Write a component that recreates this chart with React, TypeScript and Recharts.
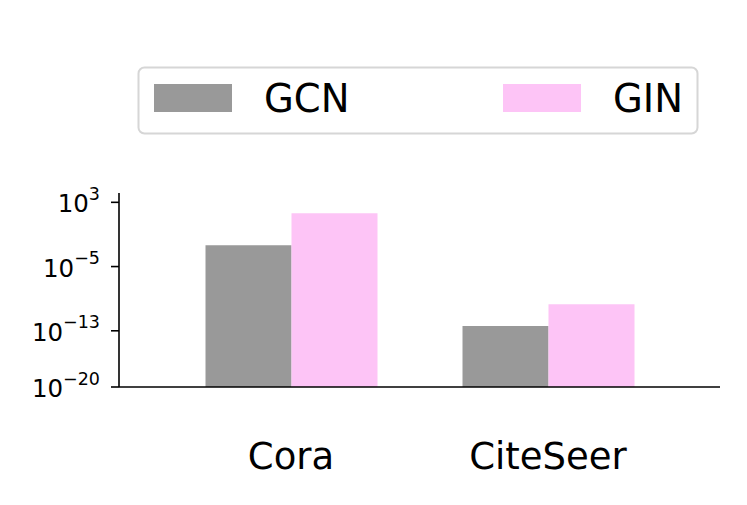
import { BarChart, Bar, XAxis, YAxis, Legend } from 'recharts';

const categories = ['Cora', 'CiteSeer'];
const gcnValues = [4.5e-3, 4e-13];
const ginValues = [45, 2e-10];
const yTicks = [1e-20, 1e-13, 1e-5, 1e3];
const yTickExponents = ['−20', '−13', '−5', '3'];

const COLORS = { GCN: '#999999', GIN: '#fdc4f6' };
const FONT = 'DejaVu Sans';

const data = categories.map((name, i) => ({ name, GCN: gcnValues[i], GIN: ginValues[i] }));

function YTick(props: any) {
  const { x, y, index } = props;
  return (
    <text x={x} y={y + 10} textAnchor="end" fontFamily={FONT} fill="#000">
      <tspan fontSize={24.5}>10</tspan>
      <tspan fontSize={17.5} dy={-12.5}>{yTickExponents[index]}</tspan>
    </text>
  );
}

function XTick(props: any) {
  const { x, y, payload } = props;
  return (
    <text x={x} y={y + 82} textAnchor="middle" fontFamily={FONT} fontSize={37} fill="#000">
      {payload.value}
    </text>
  );
}

function LegendBox(props: any) {
  const items = props.payload || [];
  const slots = [
    { patch: 17, text: 127 },
    { patch: 366, text: 476 },
  ];
  return (
    <svg width={564} height={70}>
      <rect x={1.5} y={1.5} width={559} height={66} rx={6} fill="#fff" stroke="#d6d6d6" strokeWidth={2} />
      {items.map((it: any, i: number) => (
        <g key={it.value}>
          <rect x={slots[i].patch} y={18} width={78} height={28} fill={it.color} />
          <text x={slots[i].text} y={46} fontFamily={FONT} fontSize={38.5} fill="#000">
            {it.value}
          </text>
        </g>
      ))}
    </svg>
  );
}

export default function App() {
  return (
    <div style={{ position: 'absolute', left: 0, top: 0, width: 747, height: 505, background: '#fff' }}>
      <BarChart
        width={747}
        height={505}
        data={data}
        margin={{ top: 193, right: 27, bottom: 0, left: 0 }}
        barCategoryGap={43}
        barGap={0}
      >
        <XAxis
          dataKey="name"
          height={118}
          padding={{ left: 43.5, right: 43.5 }}
          tickLine={false}
          tickSize={0}
          tickMargin={0}
          axisLine={{ stroke: '#000', strokeWidth: 1.6 }}
          tick={<XTick />}
        />
        <YAxis
          type="number"
          scale="log"
          domain={[1e-20, 1.45e4]}
          allowDataOverflow
          ticks={yTicks}
          width={119}
          tickSize={8}
          tickMargin={11}
          axisLine={{ stroke: '#000', strokeWidth: 1.6 }}
          tickLine={{ stroke: '#000', strokeWidth: 1.6 }}
          tick={<YTick />}
        />
        <Legend
          layout="horizontal"
          verticalAlign="middle"
          align="center"
          wrapperStyle={{ left: 137, top: 66, width: 564, height: 70 }}
          content={<LegendBox />}
        />
        <Bar dataKey="GCN" fill={COLORS.GCN} isAnimationActive={false} />
        <Bar dataKey="GIN" fill={COLORS.GIN} isAnimationActive={false} />
      </BarChart>
    </div>
  );
}
